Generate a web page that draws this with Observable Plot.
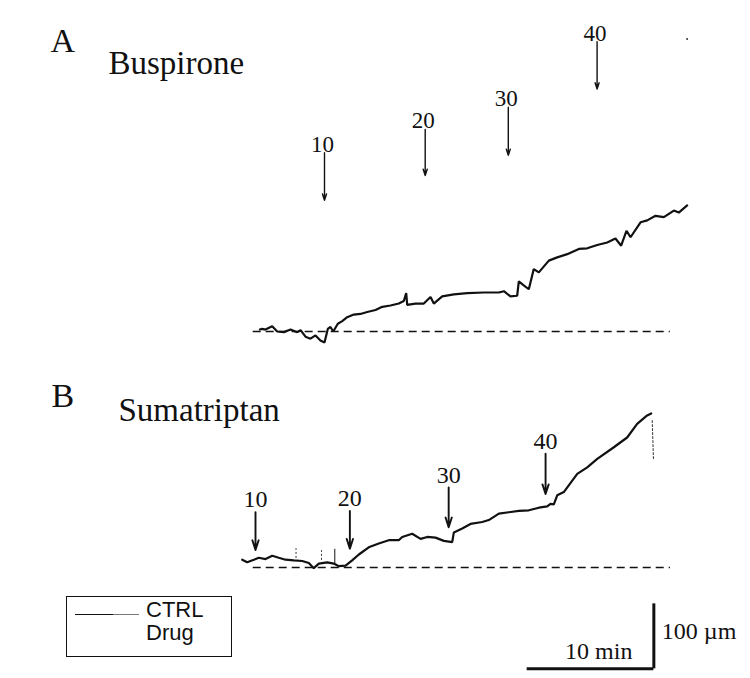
<!DOCTYPE html>
<html>
<head>
<meta charset="utf-8">
<script src="https://cdn.jsdelivr.net/npm/d3@7"></script>
<script src="https://cdn.jsdelivr.net/npm/@observablehq/plot@0.6"></script>
<style>
html, body { margin: 0; padding: 0; background: #fff; }
#wrap { position: relative; width: 750px; height: 678px; overflow: hidden; }
#legend { position: absolute; left: 66px; top: 596px; width: 166px; height: 61px; box-sizing: border-box;
  border: 1.5px solid #111; font-family: "Liberation Sans", Arial, sans-serif; font-size: 22px; color: #111; }
#legend .l1 { position: absolute; left: 8px; top: 17px; width: 38px; height: 0; border-top: 1.4px solid #111; }
#legend .l2 { position: absolute; left: 46px; top: 17px; width: 26px; height: 0; border-top: 1.6px solid #777; }
#legend .t1 { position: absolute; left: 79px; top: 1px; line-height: 24px; }
#legend .t2 { position: absolute; left: 79px; top: 24px; line-height: 24px; }
</style>
</head>
<body>
<div id="wrap"></div>
<script>
// ---------- data (time in min from first dose, diameter change in µm) ----------
const doseLabels = ["10", "20", "30", "40"];

// Panel A: Buspirone
const buspironeTime = [-5.1,-4.92,-4.66,-4.13,-3.73,-3.21,-2.68,-2.16,-1.89,-1.5,-1.11,-0.71,-0.32,0,0.26,0.47,0.69,1.05,1.4,1.79,2.31,2.84,3.37,4.03,4.56,5.21,5.87,6.26,6.45,6.53,7.18,7.84,8.37,8.63,9.29,10.21,11.27,12.58,13.76,14.16,14.68,15.21,15.34,15.73,16.13,16.52,16.92,17.71,18.37,19.16,20.08,20.74,21.53,22.32,22.97,23.42,23.84,24.16,24.95,25.48,26.13,26.79,27.58,27.97,28.63];
const buspironeValue = [3,4,3,8,0,-1,3,-1,2,-8,-11,-6,-14,-17,4,7,0,12,16,22,26,27,30,33,38,40,43,47,59,41,43,43,53,43,54,57,59,60,60,62,54,55,77,71,65,96,91,109,114,119,127,128,133,137,143,132,155,145,168,171,178,176,186,183,194];
const buspironeDoseTime = [0, 7.95, 14.51, 21.52];
const buspironeBaseline = [-5.63, 27.3];

// Panel B: Sumatriptan
const sumatriptanTime = [-1.05,-0.66,-0.13,0.26,0.79,1.32,1.84,2.37,3.02,3.69,4.21,4.6,5.0,5.66,6.18,6.58,7.11,7.63,8.16,8.94,9.73,10.52,11.31,11.58,12.37,13.03,13.56,14.21,14.87,15.53,15.66,16.32,16.97,17.9,18.42,19.21,20.0,20.79,21.58,22.37,23.03,23.29,23.55,23.82,24.34,25.4,26.19,26.98,28.29,29.34,30.13,30.92,31.24];
const sumatriptanValue = [12,8,12,15,13,18,15,12,11,10,7,-1,6,8,6,2,3,11,20,31,37,42,42,47,52,44,47,46,41,39,54,60,67,70,73,83,85,87,88,92,94,98,97,111,116,144,154,167,185,200,221,234,237];
const sumatriptanDoseTime = [0, 7.45, 15.25, 22.9];
const sumatriptanBaseline = [-0.18, 32.76];
const sumatriptanSpikeTime = [3.2, 5.21, 6.26];
const sumatriptanSpikeLow = [14, 11, 6];
const sumatriptanSpikeHigh = [29, 26, 28];
const sumatriptanEndTime = [31.32, 31.42];
const sumatriptanEndValue = [226, 165];

// ---------- layout (annotation placement) ----------
const arrowTopA = [275, 311, 345, 446], arrowTipA = [202, 240, 271, 373];
const arrowTopB = [85, 87, 123, 175], arrowTipB = [27, 29, 62, 113];
const panelB = {dx: -69, dy: 236};
const scaleBar = {t: 16, v: -519, minutes: 10, microns: 100};

const serif = "'Liberation Serif', 'Times New Roman', serif";

const traceA = buspironeTime.map((t, i) => ({t, v: buspironeValue[i]}));
const traceB = sumatriptanTime.map((t, i) => ({t, v: sumatriptanValue[i]}));
const dosesA = doseLabels.map((d, i) => ({label: d, t: buspironeDoseTime[i], top: arrowTopA[i], tip: arrowTipA[i]}));
const dosesB = doseLabels.map((d, i) => ({label: d, t: sumatriptanDoseTime[i], top: arrowTopB[i], tip: arrowTipB[i]}));
const spikesB = sumatriptanSpikeTime.map((t, i) => ({t, lo: sumatriptanSpikeLow[i], hi: sumatriptanSpikeHigh[i], solid: i === 2}));
const endB = sumatriptanEndTime.map((t, i) => ({t, v: sumatriptanEndValue[i]}));

const chart = Plot.plot({
  width: 750,
  height: 678,
  marginTop: 0, marginRight: 0, marginBottom: 0, marginLeft: 0,
  x: {domain: [-324 / 12.667, 426 / 12.667], range: [0, 750], axis: null},
  y: {domain: [(331 - 678) / 0.65, 331 / 0.65], range: [678, 0], axis: null},
  style: {background: "#fff"},
  marks: [
    // panel labels
    Plot.text(["A"], {frameAnchor: "top-left", dx: 50, dy: 51, lineAnchor: "bottom", textAnchor: "start", fontSize: 34, fontFamily: serif, fill: "#111", ariaLabel: "lblA"}),
    Plot.text(["Buspirone"], {frameAnchor: "top-left", dx: 108, dy: 73, lineAnchor: "bottom", textAnchor: "start", fontSize: 33, fontFamily: serif, fill: "#111", ariaLabel: "nameA"}),
    Plot.text(["B"], {frameAnchor: "top-left", dx: 51, dy: 406, lineAnchor: "bottom", textAnchor: "start", fontSize: 34, fontFamily: serif, fill: "#111", ariaLabel: "lblB"}),
    Plot.text(["Sumatriptan"], {frameAnchor: "top-left", dx: 118, dy: 420, lineAnchor: "bottom", textAnchor: "start", fontSize: 33, fontFamily: serif, fill: "#111", ariaLabel: "nameB"}),

    // Panel A
    Plot.ruleY([0], {x1: buspironeBaseline[0], x2: buspironeBaseline[1], stroke: "#111", strokeWidth: 1.6, strokeDasharray: "8,5"}),
    Plot.line(traceA, {x: "t", y: "v", stroke: "#111", strokeWidth: 2.2, strokeLinejoin: "miter"}),
    Plot.arrow(dosesA, {x: "t", y1: "top", y2: "tip", stroke: "#111", strokeWidth: 1.4, headLength: 7, headAngle: 36}),
    Plot.text(dosesA, {x: "t", y: "top", text: "label", dx: -2, dy: -1, lineAnchor: "bottom", fontSize: 23, fontFamily: serif, fill: "#111"}),
    Plot.dot([{t: 28.63, v: 450}], {x: "t", y: "v", r: 1, fill: "#333", stroke: "none"}),

    // Panel B
    Plot.ruleY([0], {x1: sumatriptanBaseline[0], x2: sumatriptanBaseline[1], dx: panelB.dx, dy: panelB.dy, stroke: "#111", strokeWidth: 1.6, strokeDasharray: "8,5"}),
    Plot.line(traceB, {x: "t", y: "v", dx: panelB.dx, dy: panelB.dy, stroke: "#111", strokeWidth: 2.2, strokeLinejoin: "miter"}),
    Plot.ruleX(spikesB.filter(d => !d.solid), {x: "t", y1: "lo", y2: "hi", dx: panelB.dx, dy: panelB.dy, stroke: "#333", strokeWidth: 1, strokeDasharray: "2,2"}),
    Plot.ruleX(spikesB.filter(d => d.solid), {x: "t", y1: "lo", y2: "hi", dx: panelB.dx, dy: panelB.dy, stroke: "#111", strokeWidth: 1}),
    Plot.line(endB, {x: "t", y: "v", dx: panelB.dx, dy: panelB.dy, stroke: "#333", strokeWidth: 1, strokeDasharray: "2,2"}),
    Plot.arrow(dosesB, {x: "t", y1: "top", y2: "tip", dx: panelB.dx, dy: panelB.dy, stroke: "#111", strokeWidth: 1.9, headLength: 8, headAngle: 36}),
    Plot.text(dosesB, {x: "t", y: "top", text: "label", dx: panelB.dx, dy: panelB.dy - 5, lineAnchor: "bottom", fontSize: 24, fontFamily: serif, fill: "#111"}),

    // scale bar
    Plot.ruleY([scaleBar.v], {x1: scaleBar.t, x2: scaleBar.t + scaleBar.minutes, stroke: "#111", strokeWidth: 3}),
    Plot.ruleX([scaleBar.t + scaleBar.minutes], {y1: scaleBar.v, y2: scaleBar.v + scaleBar.microns, stroke: "#111", strokeWidth: 3}),
    Plot.text(["10 min"], {x: scaleBar.t + 5.65, y: scaleBar.v, dy: -10, lineAnchor: "bottom", fontSize: 24, fontFamily: serif, fill: "#111", ariaLabel: "sbx"}),
    Plot.text(["100 µm"], {x: scaleBar.t + scaleBar.minutes, y: scaleBar.v + scaleBar.microns, dx: 8, dy: 35, lineAnchor: "bottom", textAnchor: "start", fontSize: 24, fontFamily: serif, fill: "#111", ariaLabel: "sby"})
  ]
});

const svg = d3.select(chart);
svg.selectAll("g[aria-label='nameA'] text").attr("letter-spacing", "0.8");
svg.selectAll("g[aria-label='nameB'] text").attr("letter-spacing", "1");
svg.selectAll("g[aria-label='sbx'] text, g[aria-label='sby'] text").attr("letter-spacing", "0.5");

const wrap = document.getElementById("wrap");
wrap.appendChild(chart);
const legend = document.createElement("div");
legend.id = "legend";
legend.innerHTML = '<div class="l1"></div><div class="l2"></div><div class="t1">CTRL</div><div class="t2">Drug</div>';
wrap.appendChild(legend);
</script>
</body>
</html>
